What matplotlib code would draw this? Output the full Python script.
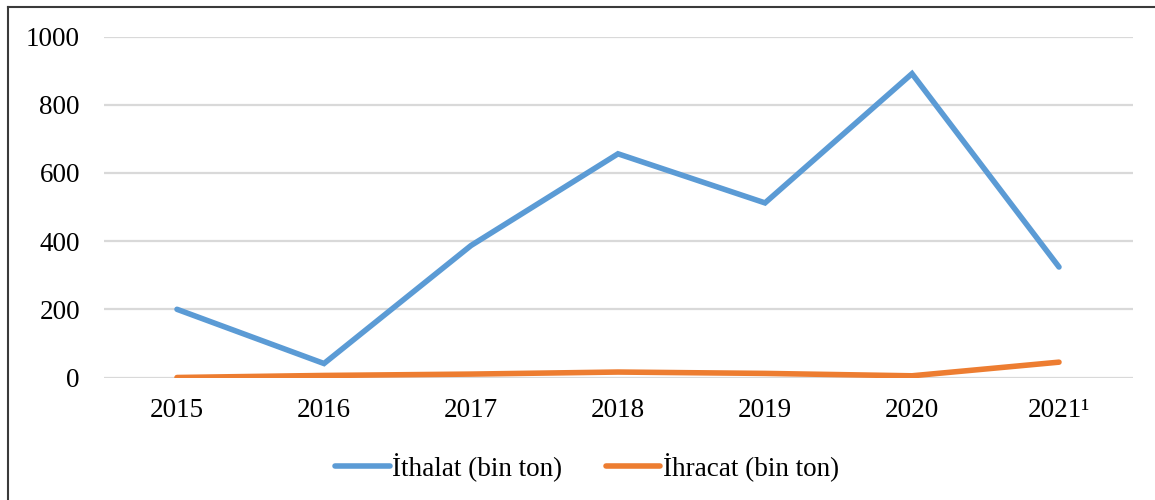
import matplotlib
matplotlib.use("Agg")
import matplotlib.pyplot as plt
from matplotlib.lines import Line2D

# Veriler
yillar = ["2015", "2016", "2017", "2018", "2019", "2020", "2021¹"]
ithalat = [200, 41, 387, 656, 512, 891, 324]
ihracat = [0, 6, 10, 16, 12, 5, 45]
y_ticks = [0, 200, 400, 600, 800, 1000]

plt.rcParams["font.family"] = ["Liberation Serif", "DejaVu Serif"]

fig = plt.figure(figsize=(11.55, 5), dpi=100)
ax = fig.add_axes([103.5 / 1155, 1 - 377.5 / 500, 1029 / 1155, 341 / 500])

x = list(range(len(yillar)))
ax.plot(x, ithalat, color="#5B9BD5", lw=4, solid_capstyle="round",
        solid_joinstyle="miter", label="İthalat (bin ton)")
ax.plot(x, ihracat, color="#ED7D31", lw=4, solid_capstyle="round",
        solid_joinstyle="miter", label="İhracat (bin ton)")

ax.set_xlim(-0.5, len(yillar) - 0.5)
ax.set_ylim(0, 1000)
ax.set_yticks(y_ticks)
ax.set_yticklabels([str(v) for v in y_ticks])
ax.set_xticks(x)
ax.set_xticklabels(yillar)
ax.tick_params(axis="y", length=0, pad=17, labelsize=19.5)
ax.tick_params(axis="x", length=0, pad=15, labelsize=19.5)
ax.grid(axis="y", color="#D9D9D9", lw=1.6)
ax.set_axisbelow(True)
for s in ax.spines.values():
    s.set_visible(False)

ax.legend(loc="upper center", bbox_to_anchor=(0.47, -0.15), ncol=2,
          frameon=False, fontsize=19.5, handlelength=2.0, handletextpad=0.1,
          columnspacing=1.6)

# cerceve (ust ve sol kenar)
fig.add_artist(Line2D([8 / 1155, 1], [1 - 7 / 500, 1 - 7 / 500],
                      transform=fig.transFigure, color="#3a3a3a", lw=1.5))
fig.add_artist(Line2D([8 / 1155, 8 / 1155], [0, 1 - 7 / 500],
                      transform=fig.transFigure, color="#3a3a3a", lw=1.5))

fig.savefig("out.png", dpi=100)
